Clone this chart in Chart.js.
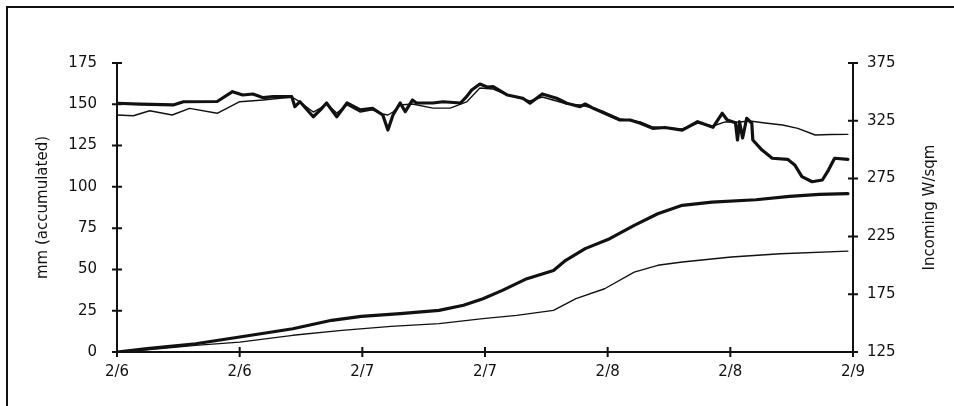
<!DOCTYPE html>
<html>
<head>
<meta charset="utf-8">
<script src="https://cdn.jsdelivr.net/npm/chart.js@4/dist/chart.umd.min.js"></script>
<style>
  html, body { margin: 0; padding: 0; background: #fff; }
  #wrap { position: relative; width: 954px; height: 406px; overflow: hidden; }
  #frame { position: absolute; left: 6px; top: 6px; width: 960px; height: 420px;
           border-left: 2px solid #111; border-top: 2px solid #111; pointer-events: none; }
  canvas { position: absolute; left: 0; top: 0; }
</style>
</head>
<body>
<div id="wrap">
  <canvas id="c" width="954" height="406"></canvas>
  <div id="frame"></div>
</div>
<script>
// ---- Data (hours since 2/6 00:00) ----
const xTickLabels = ['2/6', '2/6', '2/7', '2/7', '2/8', '2/8', '2/9'];
const yLeftTicks = [0, 25, 50, 75, 100, 125, 150, 175];
const yRightTicks = [125, 175, 225, 275, 325, 375];

// Incoming radiation, thick line (W/sqm)
const radTimeA = [0, 2.25, 5.5, 6.5, 9.8, 11.3, 12.3, 13.3, 14.3, 15.3, 17.1, 17.4, 17.9, 19.2, 19.9, 20.5, 21.5, 22.5, 23.8, 25.0, 26.0, 26.5, 27.0, 27.7, 28.2, 28.9, 29.3, 30.9, 31.9, 33.6, 34.2, 34.7, 35.5, 36.2, 36.8, 38.2, 39.7, 40.4, 41.6, 43.0, 44.0, 45.3, 45.8, 46.6, 47.7, 49.2, 50.2, 51.2, 52.4, 53.6, 55.3, 56.8, 58.3, 59.2, 59.7, 60.5, 60.7, 60.9, 61.2, 61.6, 62.1, 62.2, 63.1, 64.1, 65.6, 66.3, 67.0, 68.0, 69.0, 69.6, 70.2, 71.5];
const radA = [340.2, 339.5, 338.7, 341.5, 341.7, 350.2, 347.3, 348.2, 345.0, 345.9, 345.9, 337.2, 341.5, 328.5, 334.4, 340.4, 328.5, 340.4, 334.4, 335.8, 330.0, 317.0, 330.0, 340.4, 332.9, 343.0, 340.4, 340.4, 341.5, 340.4, 345.9, 351.7, 356.8, 354.2, 354.5, 347.3, 344.5, 340.2, 348.2, 344.5, 340.2, 337.2, 339.5, 335.8, 331.5, 325.7, 325.7, 322.8, 318.5, 319.2, 317.0, 324.2, 319.4, 331.5, 325.7, 323.4, 308.4, 324.2, 310.1, 327.2, 322.8, 308.4, 299.7, 292.6, 291.7, 286.8, 276.7, 272.3, 273.8, 282.4, 292.6, 291.7];

// Incoming radiation, thin line (W/sqm)
const radTimeB = [0, 1.6, 3.2, 5.4, 7.1, 9.8, 12.0, 14.3, 17.1, 17.9, 19.2, 19.9, 20.5, 21.5, 22.5, 23.8, 25.0, 26.0, 26.5, 27.0, 27.7, 28.9, 30.9, 32.6, 34.2, 35.5, 36.8, 38.2, 39.7, 40.4, 41.6, 43.0, 44.0, 45.3, 46.6, 47.7, 49.2, 51.2, 52.4, 53.6, 55.3, 56.8, 58.3, 59.5, 60.9, 61.9, 63.4, 65.1, 66.6, 68.3, 69.8, 71.5];
const radB = [330.0, 329.4, 333.7, 330.0, 335.8, 331.5, 341.5, 343.0, 345.6, 341.3, 332.6, 336.0, 339.5, 331.8, 338.7, 332.6, 334.4, 330.9, 330.0, 332.6, 338.7, 339.5, 336.0, 336.0, 341.3, 353.4, 352.5, 347.3, 343.9, 342.1, 345.6, 342.1, 339.5, 338.7, 336.0, 332.6, 326.6, 324.0, 319.6, 318.8, 317.9, 323.1, 320.5, 324.0, 324.0, 324.8, 323.1, 321.4, 318.5, 312.7, 313.2, 313.3];

// Accumulated mm, thick line
const mmTimeC = [0, 2.95, 7.7, 12.0, 17.2, 21.0, 23.9, 27.7, 31.5, 33.9, 35.8, 37.7, 40.1, 42.7, 43.9, 45.8, 48.2, 50.6, 52.9, 55.3, 58.2, 62.5, 65.8, 68.7, 71.5];
const mmC = [0, 2.0, 5.0, 9.1, 14.1, 19.2, 21.6, 23.2, 25.2, 28.3, 32.3, 37.3, 44.4, 49.4, 55.5, 62.6, 68.6, 76.7, 83.7, 88.8, 90.8, 92.2, 94.2, 95.5, 95.9];

// Accumulated mm, thin line
const mmTimeD = [0, 2.95, 7.7, 12.0, 17.2, 22.0, 26.8, 31.5, 35.8, 39.1, 42.7, 44.9, 47.7, 50.6, 52.9, 55.3, 60.1, 64.9, 71.5];
const mmD = [0, 1.4, 4.0, 6.0, 10.1, 13.1, 15.5, 17.2, 20.2, 22.2, 25.2, 32.3, 38.3, 48.4, 52.5, 54.5, 57.5, 59.5, 61.1];

const pts = (xs, ys) => xs.map((x, i) => ({ x: x, y: ys[i] }));

const FONT = "'DejaVu Sans', sans-serif";
const INK = '#111';

const axesPlugin = {
  id: 'axesPlugin',
  afterDatasetsDraw(chart) {
    const ctx = chart.ctx;
    const x = chart.scales.x, yl = chart.scales.y, yr = chart.scales.y2;
    const L = chart.chartArea.left, R = chart.chartArea.right;
    const T = chart.chartArea.top, B = chart.chartArea.bottom;
    ctx.save();
    ctx.strokeStyle = INK;
    ctx.lineWidth = 2;
    ctx.beginPath();
    ctx.moveTo(L, T); ctx.lineTo(L, B);
    yLeftTicks.forEach(v => { const p = yl.getPixelForValue(v); ctx.moveTo(L - 5, p); ctx.lineTo(L + 5, p); });
    ctx.moveTo(R, T); ctx.lineTo(R, B);
    yRightTicks.forEach(v => { const p = yr.getPixelForValue(v); ctx.moveTo(R - 5, p); ctx.lineTo(R + 5, p); });
    ctx.moveTo(L, B); ctx.lineTo(R, B);
    xTickLabels.forEach((_, i) => { const p = x.getPixelForValue(i * 12); ctx.moveTo(p, B - 5); ctx.lineTo(p, B + 5); });
    ctx.stroke();
    ctx.fillStyle = INK;
    ctx.font = "15px " + FONT;
    ctx.textAlign = 'center';
    ctx.textBaseline = 'middle';
    ctx.translate(930, (T + B) / 2);
    ctx.rotate(-Math.PI / 2);
    ctx.fillText('Incoming W/sqm', 0, 0);
    ctx.restore();
  }
};

const lineDs = (label, data, axis, w) => ({
  label, data, yAxisID: axis, borderColor: INK, backgroundColor: INK,
  borderWidth: w, pointRadius: 0, tension: 0, fill: false,
  borderJoinStyle: 'round', borderCapStyle: 'round'
});

new Chart(document.getElementById('c'), {
  type: 'line',
  data: {
    datasets: [
      lineDs('Incoming W/sqm (thick)', pts(radTimeA, radA), 'y2', 3.2),
      lineDs('Incoming W/sqm (thin)', pts(radTimeB, radB), 'y2', 1.4),
      lineDs('mm accumulated (thick)', pts(mmTimeC, mmC), 'y', 3.2),
      lineDs('mm accumulated (thin)', pts(mmTimeD, mmD), 'y', 1.4)
    ]
  },
  options: {
    responsive: false,
    animation: false,
    devicePixelRatio: 1,
    layout: { padding: { top: 63, left: 0, right: 0, bottom: 0 } },
    plugins: { legend: { display: false }, tooltip: { enabled: false } },
    scales: {
      x: {
        type: 'linear', min: 0, max: 72,
        afterFit: s => { s.height = 54; },
        afterBuildTicks: s => { s.ticks = xTickLabels.map((_, i) => ({ value: i * 12 })); },
        grid: { display: false, drawTicks: false },
        border: { display: false },
        ticks: {
          color: INK, font: { family: FONT, size: 15 }, padding: 11, maxRotation: 0,
          callback: (v) => xTickLabels[Math.round(v / 12)]
        }
      },
      y: {
        position: 'left', min: 0, max: 175,
        afterFit: s => { s.width = 117; },
        afterBuildTicks: s => { s.ticks = yLeftTicks.map(v => ({ value: v })); },
        grid: { display: false, drawTicks: false },
        border: { display: false },
        ticks: { color: INK, font: { family: FONT, size: 15 }, padding: 20 },
        title: { display: true, text: 'mm (accumulated)', color: INK, font: { family: FONT, size: 15 }, padding: { top: 34, bottom: 0 } }
      },
      y2: {
        position: 'right', min: 125, max: 375,
        afterFit: s => { s.width = 101; },
        afterBuildTicks: s => { s.ticks = yRightTicks.map(v => ({ value: v })); },
        grid: { display: false, drawTicks: false },
        border: { display: false },
        ticks: { color: INK, font: { family: FONT, size: 15 }, padding: 14 }
      }
    }
  },
  plugins: [axesPlugin]
});
</script>
</body>
</html>
